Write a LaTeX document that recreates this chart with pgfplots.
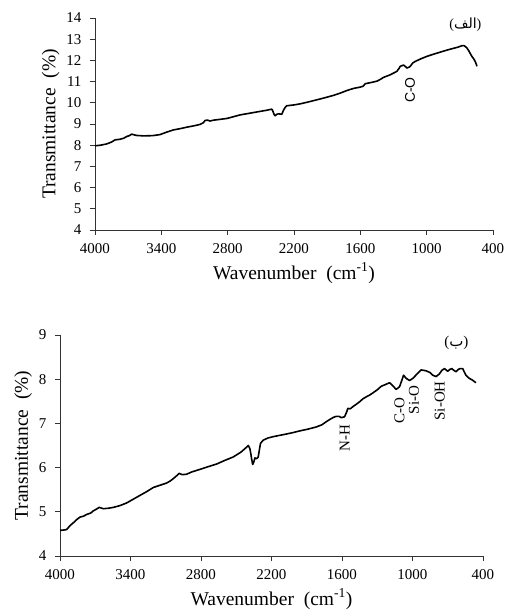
\documentclass[border=0pt]{standalone}
\usepackage{pgfplots}
\pgfplotsset{compat=1.18}
\usepackage{fontspec}
\setmainfont{Liberation Serif}
\newfontfamily\arial{Liberation Sans}
\newfontfamily\arabicfont[Script=Arabic]{DejaVu Sans}
\TeXXeTstate=1

\pgfplotsset{
  irspec/.style={
    scale only axis,
    x dir=reverse,
    xmin=400, xmax=4000,
    xtick={4000,3400,2800,2200,1600,1000,400},
    axis x line*=bottom, axis y line*=left,
    axis line style={line width=0.8pt, black!80},
    tick style={line width=0.8pt, black!80},
    tick align=outside, major tick length=5pt,
    /pgf/number format/assume math mode=true,
    /pgf/number format/set thousands separator={},
    ticklabel style={font=\fontsize{15}{15}\selectfont},
    xticklabel style={yshift=-5pt},
    yticklabel style={xshift=-5pt},
    label style={font=\fontsize{19.5}{20}\selectfont},
    xlabel style={yshift=-2pt},
    xlabel={Wavenumber\ \ (cm\textsuperscript{-1})},
    ylabel={Transmittance\ \ (\%)},
    clip=false,
  },
  irline/.style={black, line width=1.6pt, line join=round, no marks},
}

\begin{document}
\begin{tikzpicture}
\useasboundingbox (0,0) rectangle (505pt,611pt);

\begin{axis}[irspec,
  at={(95pt,381pt)}, anchor=south west,
  width=398pt, height=212pt,
  ymin=4, ymax=14, ytick={4,5,...,14},
]
\addplot[irline] coordinates {
(4000,7.97)(3950,8.0)(3894,8.06)(3850,8.15)(3819,8.25)(3774,8.28)(3740,8.33)(3713,8.41)
(3690,8.45)(3668,8.52)(3640,8.48)(3623,8.46)(3562,8.44)(3480,8.45)(3412,8.50)(3350,8.62)
(3291,8.72)(3230,8.78)(3170,8.85)(3100,8.92)(3049,8.98)(3020,9.06)(3004,9.17)(2980,9.18)
(2959,9.14)(2929,9.18)(2868,9.22)(2808,9.26)(2750,9.34)(2687,9.43)(2620,9.49)(2567,9.54)
(2500,9.60)(2446,9.65)(2401,9.70)(2392,9.62)(2380,9.45)(2370,9.39)(2355,9.46)(2340,9.48)
(2310,9.46)(2295,9.65)(2280,9.78)(2265,9.86)(2200,9.90)(2144,9.95)(2070,10.04)(1993,10.14)
(1920,10.24)(1842,10.35)(1780,10.46)(1721,10.58)(1660,10.68)(1601,10.74)(1575,10.78)(1556,10.9)
(1500,10.96)(1450,11.02)(1420,11.10)(1390,11.20)(1330,11.32)(1270,11.48)(1250,11.62)(1239,11.72)
(1209,11.78)(1190,11.70)(1179,11.64)(1160,11.68)(1149,11.72)(1125,11.88)(1104,11.95)(1050,12.08)
(998,12.19)(940,12.29)(877,12.39)(820,12.48)(757,12.57)(720,12.62)(682,12.69)(665,12.70)
(651,12.66)(635,12.58)(621,12.47)(605,12.32)(591,12.19)(575,12.08)(561,11.95)(550,11.80)(545,11.72)
};
\node[rotate=90, font=\arial\fontsize{14}{14}\selectfont] at (axis cs:1150,10.6) {C-O};
\node[font=\fontsize{14}{14}\selectfont] at (axis cs:650,13.7) {({\arabicfont\beginR الف\endR})};
\end{axis}

\begin{axis}[irspec,
  at={(60pt,55pt)}, anchor=south west,
  width=423pt, height=221pt,
  ymin=4, ymax=9, ytick={4,5,...,9},
]
\addplot[irline] coordinates {
(4000,4.58)(3960,4.59)(3943,4.60)(3910,4.70)(3887,4.75)(3860,4.82)(3830,4.88)(3800,4.90)
(3773,4.94)(3740,4.97)(3717,5.02)(3690,5.06)(3666,5.10)(3631,5.07)(3590,5.08)(3546,5.10)
(3490,5.14)(3433,5.20)(3380,5.28)(3320,5.37)(3260,5.46)(3206,5.55)(3150,5.60)(3093,5.65)
(3060,5.70)(3036,5.75)(3005,5.82)(2985,5.87)(2960,5.84)(2923,5.85)(2880,5.90)(2809,5.96)
(2740,6.02)(2668,6.08)(2600,6.16)(2526,6.24)(2460,6.35)(2413,6.46)(2398,6.50)(2384,6.43)
(2375,6.30)(2370,6.21)(2360,6.07)(2350,6.13)(2341,6.22)(2327,6.20)(2313,6.24)(2300,6.45)
(2293,6.55)(2271,6.62)(2230,6.67)(2186,6.70)(2130,6.73)(2073,6.76)(2020,6.79)(1960,6.83)
(1890,6.87)(1818,6.92)(1770,6.97)(1733,7.04)(1691,7.11)(1670,7.14)(1648,7.16)(1625,7.16)
(1606,7.13)(1578,7.15)(1560,7.26)(1550,7.34)(1530,7.33)(1507,7.38)(1480,7.43)(1450,7.49)
(1420,7.56)(1394,7.60)(1365,7.64)(1337,7.69)(1300,7.76)(1266,7.84)(1230,7.88)(1195,7.92)
(1170,7.86)(1150,7.80)(1139,7.77)(1110,7.83)(1090,7.98)(1076,8.09)(1054,8.02)(1025,7.97)
(997,8.02)(960,8.12)(926,8.21)(884,8.19)(850,8.15)(827,8.09)(799,8.06)(771,8.12)
(750,8.20)(728,8.24)(700,8.18)(683,8.22)(666,8.24)(648,8.20)(630,8.17)(610,8.22)
(596,8.24)(573,8.24)(560,8.17)(545,8.09)(530,8.05)(517,8.02)(490,7.98)(460,7.92)
};
\node[rotate=90, font=\fontsize{15}{15}\selectfont] at (axis cs:1576,6.66) {N-H};
\node[rotate=90, font=\fontsize{15}{15}\selectfont] at (axis cs:1110,7.30) {C-O};
\node[rotate=90, font=\fontsize{15}{15}\selectfont] at (axis cs:988,7.53) {Si-O};
\node[rotate=90, font=\fontsize{15}{15}\selectfont] at (axis cs:768,7.51) {Si-OH};
\node[font=\fontsize{15}{15}\selectfont] at (axis cs:627,8.83) {({\arabicfont\beginR ب\endR})};
\end{axis}
\end{tikzpicture}
\end{document}
